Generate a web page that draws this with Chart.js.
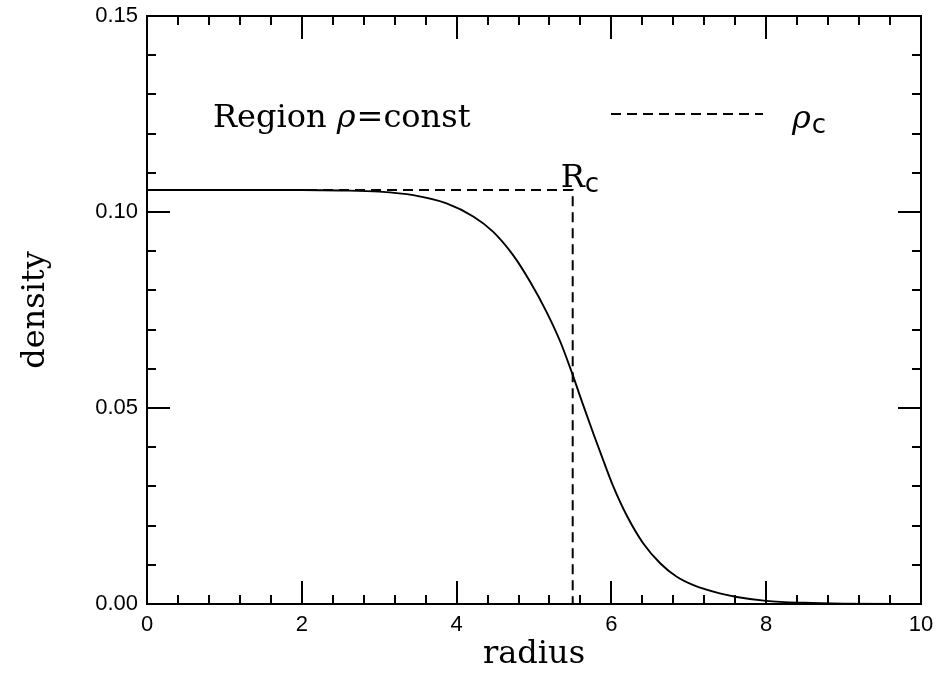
<!DOCTYPE html>
<html>
<head>
<meta charset="utf-8">
<script src="https://cdn.jsdelivr.net/npm/chart.js@4.4.0/dist/chart.umd.min.js"></script>
<style>
  html, body { margin: 0; padding: 0; background: #fff; }
  #wrap { width: 938px; height: 675px; }
</style>
</head>
<body>
<div id="wrap"><canvas id="densityChart"></canvas></div>
<script>
// density profile rho(r)
const radius  = [0, 1, 2, 2.5, 3, 3.44, 3.87, 4.22, 4.47, 4.73, 4.95, 5.16, 5.34, 5.47, 5.64, 5.77, 5.9, 6.02, 6.2, 6.41, 6.63, 6.84, 7.06, 7.4, 7.62, 8, 8.5, 9, 10];
const density = [0.1056, 0.1056, 0.1056, 0.1055, 0.1052, 0.1043, 0.1022, 0.0988, 0.0950, 0.0890, 0.0822, 0.0746, 0.0669, 0.0601, 0.0505, 0.0433, 0.0364, 0.0302, 0.0225, 0.0155, 0.0104, 0.0070, 0.0048, 0.0027, 0.0018, 0.0008, 0.0003, 0.0001, 0.0000];

// core density and core radius (dashed guide)
const rhoC = 0.1056;
const rC = 5.5;

const xTicks = [0, 2, 4, 6, 8, 10];
const yTicks = [0, 0.05, 0.10, 0.15];

const SERIF = '"DejaVu Serif", serif';
const SANS = '"DejaVu Sans", sans-serif';
const TICK_FONT = '"Liberation Sans", Arial, sans-serif';

function stepValues(min, max, step) {
    const n = Math.round((max - min) / step);
    return Array.from({ length: n + 1 }, (_, i) => min + i * step);
}

// the axes own their width/height; labels must not push the plot area around
function noLabelPadding(s) {
    s.paddingTop = 0;
    s.paddingBottom = 0;
    s.paddingLeft = 0;
    s.paddingRight = 0;
}

// marco con ticks hacia dentro en los cuatro lados
const frameTicks = {
    id: 'frameTicks',
    afterDatasetsDraw(chart) {
        const { ctx, chartArea: a, scales: { x, y } } = chart;
        ctx.save();
        ctx.strokeStyle = '#000';
        ctx.lineWidth = 2;
        ctx.strokeRect(a.left, a.top, a.right - a.left, a.bottom - a.top);
        ctx.beginPath();
        stepValues(0, 10, 0.4).forEach((v, i) => {
            const len = i % 5 === 0 ? 23 : 9;
            const px = Math.round(x.getPixelForValue(v));
            ctx.moveTo(px, a.bottom); ctx.lineTo(px, a.bottom - len);
            ctx.moveTo(px, a.top); ctx.lineTo(px, a.top + len);
        });
        stepValues(0, 0.15, 0.01).forEach((v, i) => {
            const len = i % 5 === 0 ? 23 : 9;
            const py = Math.round(y.getPixelForValue(v));
            ctx.moveTo(a.left, py); ctx.lineTo(a.left + len, py);
            ctx.moveTo(a.right, py); ctx.lineTo(a.right - len, py);
        });
        ctx.stroke();
        ctx.restore();
    }
};

// textos dentro del gráfico: rótulo de región, R_c y leyenda
function drawPieces(ctx, x, baseline, pieces) {
    pieces.forEach(p => {
        ctx.font = p.font;
        ctx.fillText(p.text, x, baseline + (p.dy || 0));
        x += ctx.measureText(p.text).width + (p.gap || 0);
    });
}

const annotations = {
    id: 'annotations',
    afterDraw(chart) {
        const { ctx, scales: { x, y } } = chart;
        ctx.save();
        ctx.fillStyle = '#000';
        ctx.textBaseline = 'alphabetic';
        ctx.textAlign = 'left';

        drawPieces(ctx, 213, 127, [
            { text: 'Region ', font: `32px ${SERIF}` },
            { text: 'ρ', font: `italic 32px ${SERIF}`, gap: 1 },
            { text: '=const', font: `32px ${SERIF}` }
        ]);

        const rx = x.getPixelForValue(rC);
        const ry = y.getPixelForValue(rhoC);
        drawPieces(ctx, rx - 12, ry - 3, [
            { text: 'R', font: `32px ${SERIF}` },
            { text: 'c', font: `26px ${SANS}`, dy: 5 }
        ]);

        // leyenda: guía discontinua -> rho_c
        ctx.strokeStyle = '#000';
        ctx.lineWidth = 2;
        ctx.setLineDash([10, 6]);
        ctx.beginPath();
        ctx.moveTo(611, 114);
        ctx.lineTo(763, 114);
        ctx.stroke();
        ctx.setLineDash([]);
        drawPieces(ctx, 792, 128, [
            { text: 'ρ', font: `italic 32px ${SERIF}`, gap: 1 },
            { text: 'c', font: `26px ${SANS}`, dy: 5 }
        ]);
        ctx.restore();
    }
};

new Chart(document.getElementById('densityChart'), {
    type: 'line',
    data: {
        datasets: [
            {
                label: 'density',
                data: radius.map((r, i) => ({ x: r, y: density[i] })),
                borderColor: '#000',
                borderWidth: 1.9,
                pointRadius: 0,
                cubicInterpolationMode: 'monotone',
                fill: false
            },
            {
                label: 'ρc',
                data: [{ x: 0, y: rhoC }, { x: rC, y: rhoC }, { x: rC, y: 0 }],
                borderColor: '#000',
                borderWidth: 2,
                borderDash: [10, 6],
                pointRadius: 0,
                tension: 0,
                fill: false
            }
        ]
    },
    options: {
        responsive: true,
        maintainAspectRatio: false,
        animation: false,
        layout: { padding: { top: 16, right: 17, left: 0, bottom: 0 } },
        plugins: {
            legend: { display: false },
            tooltip: { enabled: false }
        },
        scales: {
            x: {
                type: 'linear',
                min: 0,
                max: 10,
                afterBuildTicks: s => { s.ticks = xTicks.map(v => ({ value: v })); },
                afterFit: s => { s.height = 71; noLabelPadding(s); },
                grid: { display: false, drawTicks: false },
                border: { display: false },
                ticks: {
                    autoSkip: false,
                    maxRotation: 0,
                    padding: 8,
                    color: '#000',
                    font: { family: TICK_FONT, size: 22 },
                    callback: v => String(v)
                },
                title: {
                    display: true,
                    text: 'radius',
                    color: '#000',
                    font: { family: SERIF, size: 32 },
                    padding: { top: 0, bottom: 1 }
                }
            },
            y: {
                type: 'linear',
                min: 0,
                max: 0.15,
                afterBuildTicks: s => { s.ticks = yTicks.map(v => ({ value: v })); },
                afterFit: s => { s.width = 147; noLabelPadding(s); },
                grid: { display: false, drawTicks: false },
                border: { display: false },
                ticks: {
                    autoSkip: false,
                    padding: 9,
                    color: '#000',
                    font: { family: TICK_FONT, size: 22 },
                    callback: v => v.toFixed(2)
                },
                title: {
                    display: true,
                    text: 'density',
                    color: '#000',
                    font: { family: SERIF, size: 32 },
                    padding: { top: 16, bottom: 0 }
                }
            }
        }
    },
    plugins: [frameTicks, annotations]
});
</script>
</body>
</html>
